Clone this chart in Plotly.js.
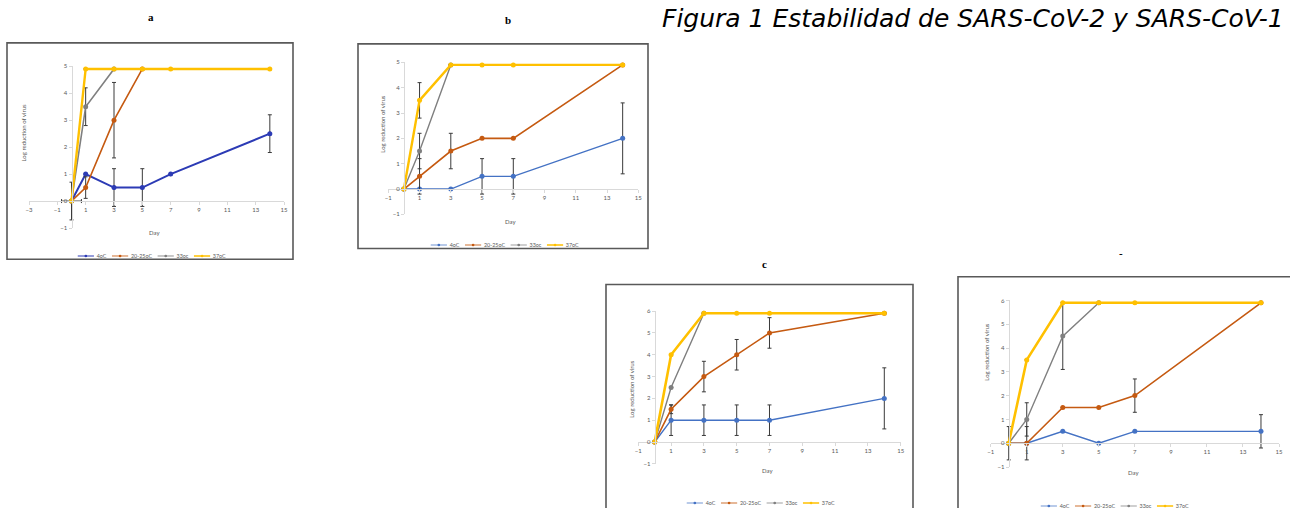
<!DOCTYPE html>
<html><head><meta charset="utf-8">
<script src="https://cdn.plot.ly/plotly-3.0.1.min.js"></script>
<style>html,body{margin:0;padding:0;background:#fff}#chart{width:1290px;height:508px}</style>
</head><body><div id="chart"></div>
<script>
// ---- data ----
const seriesNames = ['4oC', '20-25oC', '33oc', '37oC'];
const panelLabels = ['a', 'b', 'c', '-'];
const figureTitle = 'Figura 1 Estabilidad de SARS-CoV-2 y SARS-CoV-1';
const xTitle = 'Day';
const yTitle = 'Log reduction of virus';

// panel a
const a4Days = [0, 1, 3, 5, 7, 14];
const a4 = [0, 1, 0.5, 0.5, 1, 2.5];
const a4Err = [null, null, 0.7, 0.7, null, 0.7];
const a4ErrX = [0.7, null, null, null, null, null];
const a20Days = [0, 1, 3, 5];
const a20 = [0, 0.5, 3, 4.9];
const a20Err = [null, 0.4, 1.4, null];
const a33Days = [0, 1, 3];
const a33 = [0, 3.5, 4.9];
const a33Err = [0.7, 0.7, null];
const a37Days = [0, 1, 3, 5, 7, 14];
const a37 = [0, 4.9, 4.9, 4.9, 4.9, 4.9];
const a37Err = [null, null, null, null, null, null];

// panel b
const b4Days = [0, 1, 3, 5, 7, 14];
const b4 = [0, 0, 0, 0.5, 0.5, 2];
const b4Err = [null, null, null, 0.7, 0.7, 1.4];
const b20Days = [0, 1, 3, 5, 7, 14];
const b20 = [0, 0.5, 1.5, 2, 2, 4.9];
const b20Err = [null, 0.7, 0.7, null, null, null];
const b33Days = [0, 1, 3];
const b33 = [0, 1.5, 4.9];
const b33Err = [null, 0.7, null];
const b37Days = [0, 1, 3, 5, 7, 14];
const b37 = [0, 3.5, 4.9, 4.9, 4.9, 4.9];
const b37Err = [null, 0.7, null, null, null, null];

// panel c
const c4Days = [0, 1, 3, 5, 7, 14];
const c4 = [0, 1, 1, 1, 1, 2];
const c4Err = [null, 0.7, 0.7, 0.7, 0.7, 1.4];
const c20Days = [0, 1, 3, 5, 7, 14];
const c20 = [0, 1.5, 3, 4, 5, 5.9];
const c20Err = [null, 0.2, 0.7, 0.7, 0.7, null];
const c33Days = [0, 1, 3];
const c33 = [0, 2.5, 5.9];
const c33Err = [null, null, null];
const c37Days = [0, 1, 3, 5, 7, 14];
const c37 = [0, 4, 5.9, 5.9, 5.9, 5.9];
const c37Err = [null, null, null, null, null, null];

// panel d
const d4Days = [0, 1, 3, 5, 7, 14];
const d4 = [0, 0, 0.5, 0, 0.5, 0.5];
const d4Err = [null, null, null, null, null, 0.7];
const d20Days = [0, 1, 3, 5, 7, 14];
const d20 = [0, 0, 1.5, 1.5, 2, 5.9];
const d20Err = [null, 0.7, null, null, 0.7, null];
const d33Days = [0, 1, 3, 5];
const d33 = [0, 1, 4.5, 5.9];
const d33Err = [0.7, 0.7, 1.4, null];
const d37Days = [0, 1, 3, 5, 7, 14];
const d37 = [0, 3.5, 5.9, 5.9, 5.9, 5.9];
const d37Err = [null, null, null, null, null, null];

const panelsData = [
  [[a4Days, a4, a4Err, a4ErrX], [a20Days, a20, a20Err], [a33Days, a33, a33Err], [a37Days, a37, a37Err]],
  [[b4Days, b4, b4Err], [b20Days, b20, b20Err], [b33Days, b33, b33Err], [b37Days, b37, b37Err]],
  [[c4Days, c4, c4Err], [c20Days, c20, c20Err], [c33Days, c33, c33Err], [c37Days, c37, c37Err]],
  [[d4Days, d4, d4Err], [d20Days, d20, d20Err], [d33Days, d33, d33Err], [d37Days, d37, d37Err]]
];

// ---- layout geometry (pixels) ----
const W = 1290, H = 508;
const geo = [
  {x0: 29, x1: 284, yTop: 68, yBot: 234, xr: [-3, 15], yr: [-1, 5], box: [7, 44, 293, 266], title: [151, 17], day: [154, 239], yt: [23, 137], leg: [152, 256]},
  {x0: 388.3, x1: 638.3, yTop: 64, yBot: 220, xr: [-1, 15], yr: [-1, 5], box: [358, 45, 648, 255], title: [508, 21], day: [510, 227], yt: [383, 128], leg: [505, 245]},
  {x0: 638.3, x1: 900.7, yTop: 319.3, yBot: 476, xr: [-1, 15], yr: [-1, 6], box: [606, 292, 913, 530], title: [764, 271], day: [767, 483], yt: [632, 400], leg: [761, 503]},
  {x0: 990.7, x1: 1279, yTop: 308.3, yBot: 479.3, xr: [-1, 15], yr: [-1, 6], box: [958, 284, 1310, 530], title: [1121, 260], day: [1133, 485], yt: [987, 362], leg: [1115, 506]}
];
const colorSets = [
  ['#2c3bb5', '#c55a11', '#7f7f7f', '#ffc000'],
  ['#4472c4', '#c55a11', '#7f7f7f', '#ffc000'],
  ['#4472c4', '#c55a11', '#7f7f7f', '#ffc000'],
  ['#4472c4', '#c55a11', '#808080', '#ffc000']
];
const widthSets = [[2, 1.6, 1.6, 2.4], [1.4, 1.6, 1.4, 2.4], [1.4, 1.6, 1.4, 2.6], [1.4, 1.6, 1.4, 2.6]];
const px = v => v / W;
const py = v => 1 - v / H;
const FONT = 'Lato, "Open Sans", sans-serif';
const LEG_SCALE = 0.54;

const traces = [];
const layout = {
  width: W, height: H,
  margin: {l: 0, r: 0, t: 0, b: 0},
  paper_bgcolor: '#fff', plot_bgcolor: 'rgba(0,0,0,0)',
  showlegend: true,
  font: {family: FONT, color: '#595959', size: 6},
  shapes: [], annotations: []
};
const legendCenters = {};

geo.forEach((g, i) => {
  const n = i === 0 ? '' : String(i + 1);
  const xd = [px(g.x0), px(g.x1)];
  const yd = [py(g.yBot), py(g.yTop)];
  const xPos = xd[0] + (0 - g.xr[0]) / (g.xr[1] - g.xr[0]) * (xd[1] - xd[0]);
  const yPos = yd[0] + (0 - g.yr[0]) / (g.yr[1] - g.yr[0]) * (yd[1] - yd[0]);
  layout['xaxis' + n] = {
    domain: xd, range: g.xr, anchor: 'free', position: yPos,
    tick0: g.xr[0], dtick: 2, showgrid: false, zeroline: false,
    showline: true, linecolor: '#d9d9d9', linewidth: 1,
    ticks: 'outside', ticklen: 3, tickcolor: '#d9d9d9',
    tickfont: {size: 6, color: '#595959', family: FONT}, fixedrange: true
  };
  layout['yaxis' + n] = {
    domain: yd, range: g.yr, anchor: 'free', position: xPos,
    dtick: 1, showgrid: false, zeroline: false,
    showline: true, linecolor: '#d9d9d9', linewidth: 1,
    ticks: 'outside', ticklen: 3, tickcolor: '#d9d9d9',
    tickfont: {size: 6, color: '#595959', family: FONT}, fixedrange: true
  };
  const legKey = 'legend' + n;
  legendCenters[legKey] = g.leg;
  layout[legKey] = {
    orientation: 'h', x: px(g.leg[0]), xanchor: 'center', y: py(g.leg[1]), yanchor: 'middle',
    font: {size: 10, color: '#595959', family: FONT}, bgcolor: 'rgba(0,0,0,0)',
    itemwidth: 30, tracegroupgap: 0
  };
  panelsData[i].forEach((s, k) => {
    const t = {
      type: 'scatter', mode: 'lines+markers', name: seriesNames[k],
      x: s[0], y: s[1],
      xaxis: 'x' + n, yaxis: 'y' + n, legend: legKey,
      line: {color: colorSets[i][k], width: widthSets[i][k]},
      marker: {color: colorSets[i][k], size: 5, symbol: 'circle'},
      error_y: {type: 'data', array: s[2], visible: true, color: '#3a3a3a', thickness: 1, width: 2},
      cliponaxis: false, hoverinfo: 'skip'
    };
    if (s[3]) t.error_x = {type: 'data', array: s[3], visible: true, color: '#3a3a3a', thickness: 1, width: 2};
    traces.push(t);
  });
  layout.shapes.push({type: 'rect', xref: 'paper', yref: 'paper',
    x0: px(g.box[0]), x1: px(g.box[2]), y0: py(g.box[3]), y1: py(g.box[1]),
    line: {color: '#595959', width: 1.6}, fillcolor: 'rgba(0,0,0,0)', layer: 'below'});
  layout.annotations.push({xref: 'paper', yref: 'paper', x: px(g.title[0]), y: py(g.title[1]),
    text: '<b>' + panelLabels[i] + '</b>', showarrow: false, xanchor: 'center', yanchor: 'middle',
    font: {family: '"Liberation Serif", serif', size: 11, color: '#000000'}});
  layout.annotations.push({xref: 'paper', yref: 'paper', x: px(g.day[0]), y: py(g.day[1]),
    text: xTitle, showarrow: false, xanchor: 'center', yanchor: 'middle',
    font: {family: FONT, size: 6, color: '#595959'}});
  layout.annotations.push({xref: 'paper', yref: 'paper', x: px(g.yt[0]), y: py(g.yt[1]),
    text: yTitle, showarrow: false, xanchor: 'center', yanchor: 'middle', textangle: -90,
    font: {family: FONT, size: 6, color: '#595959'}});
});

layout.annotations.push({xref: 'paper', yref: 'paper', x: px(1286), y: py(19),
  text: '<i>' + figureTitle + '</i>', showarrow: false, xanchor: 'right', yanchor: 'middle',
  font: {family: '"DejaVu Sans", sans-serif', size: 25, color: '#000'}});

Plotly.newPlot('chart', traces, layout, {displayModeBar: false, staticPlot: true}).then(gd => {
  // shrink each legend (Excel-style compact legend) around its intended centre
  Object.keys(legendCenters).forEach(key => {
    const el = gd.querySelector('g.' + key);
    if (!el) return;
    const b = el.getBBox();
    const c = legendCenters[key];
    const tx = c[0] - LEG_SCALE * (b.x + b.width / 2);
    const ty = c[1] - LEG_SCALE * (b.y + b.height / 2);
    el.setAttribute('transform', 'translate(' + tx + ',' + ty + ') scale(' + LEG_SCALE + ')');
  });
});
</script>
</body></html>
